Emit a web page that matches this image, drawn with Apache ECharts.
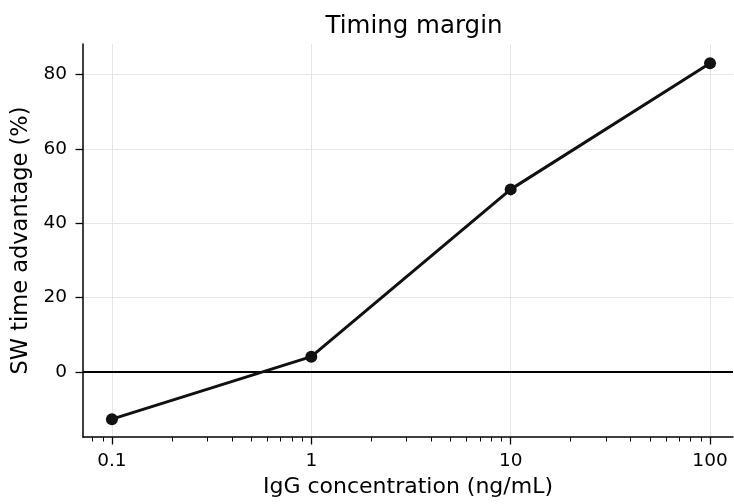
<!DOCTYPE html>
<html>
<head>
<meta charset="utf-8">
<script src="https://cdn.jsdelivr.net/npm/echarts@6/dist/echarts.min.js"></script>
<style>
  html, body { margin: 0; padding: 0; background: #ffffff; }
  #chart { width: 734px; height: 504px; }
</style>
</head>
<body>
<div id="chart"></div>
<script>
// IgG concentration (ng/mL) and the SW time advantage (%) at each level
const concentrations = [0.1, 1, 10, 100];
const swAdvantage = [-12.7, 4.1, 49.1, 83.0];

// Axis ticks and labels
const xMajorTicks = [0.1, 1, 10, 100];
const xMajorLabels = ['0.1', '1', '10', '100'];
const xMinorTicks = [0.08, 0.09,
  0.2, 0.3, 0.4, 0.5, 0.6, 0.7, 0.8, 0.9,
  2, 3, 4, 5, 6, 7, 8, 9,
  20, 30, 40, 50, 60, 70, 80, 90];
const yTicks = [0, 20, 40, 60, 80];

const FONT = 'DejaVu Sans';
const xRange = [0.0716, 130.4];
const yRange = [-17.5, 88.2];

const chart = echarts.init(document.getElementById('chart'), null, { renderer: 'canvas' });

const labelFor = v => {
  for (let i = 0; i < xMajorTicks.length; i++) {
    if (Math.abs(Math.log10(v) - Math.log10(xMajorTicks[i])) < 1e-6) return xMajorLabels[i];
  }
  return '';
};

chart.setOption({
  animation: false,
  backgroundColor: '#ffffff',
  title: {
    text: 'Timing margin',
    left: 409,
    textAlign: 'center',
    top: 9,
    textStyle: { fontFamily: FONT, fontSize: 24.5, fontWeight: 'normal', color: '#000' }
  },
  grid: { left: 83, right: 1, top: 44, bottom: 67, containLabel: false, outerBoundsMode: 'none' },
  xAxis: [
    {
      type: 'log',
      logBase: 10,
      min: xRange[0],
      max: xRange[1],
      position: 'bottom',
      name: 'IgG concentration (ng/mL)',
      nameLocation: 'middle',
      nameGap: 36,
      nameTextStyle: { fontFamily: FONT, fontSize: 22, color: '#000' },
      axisLine: { show: true, onZero: false, lineStyle: { color: '#000', width: 1.5 } },
      axisTick: { show: true, length: 7.5, customValues: xMajorTicks, lineStyle: { color: '#000', width: 1.3 } },
      axisLabel: {
        customValues: xMajorTicks,
        formatter: labelFor,
        margin: 15,
        fontFamily: FONT, fontSize: 18.5, color: '#000'
      },
      splitLine: { show: true, lineStyle: { color: '#e6e6e6', width: 1 } }
    },
    {
      type: 'log',
      logBase: 10,
      min: xRange[0],
      max: xRange[1],
      position: 'bottom',
      axisLine: { show: false, onZero: false },
      axisTick: { show: true, length: 4.5, customValues: xMinorTicks, lineStyle: { color: '#000', width: 1 } },
      axisLabel: { show: false },
      splitLine: { show: false }
    }
  ],
  yAxis: {
    type: 'value',
    min: yRange[0],
    max: yRange[1],
    name: 'SW time advantage (%)',
    nameLocation: 'middle',
    nameGap: 47,
    nameRotate: 90,
    nameTextStyle: { fontFamily: FONT, fontSize: 22.5, color: '#000' },
    axisLine: { show: true, onZero: false, lineStyle: { color: '#000', width: 1.5 } },
    axisTick: { show: true, length: 7.5, customValues: yTicks, lineStyle: { color: '#000', width: 1.3 } },
    axisLabel: { customValues: yTicks, margin: 16, fontFamily: FONT, fontSize: 18.5, color: '#000' },
    splitLine: { show: true, lineStyle: { color: '#e6e6e6', width: 1 } }
  },
  series: [
    {
      type: 'line',
      xAxisIndex: 0,
      data: concentrations.map((c, i) => [c, swAdvantage[i]]),
      symbol: 'circle',
      symbolSize: 12,
      lineStyle: { color: '#111111', width: 3 },
      itemStyle: { color: '#111111' },
      z: 5,
      markLine: {
        silent: true,
        symbol: 'none',
        label: { show: false },
        lineStyle: { color: '#000', width: 1.8, type: 'solid' },
        data: [{ yAxis: 0 }],
        z: 3
      }
    }
  ]
});
</script>
</body>
</html>
